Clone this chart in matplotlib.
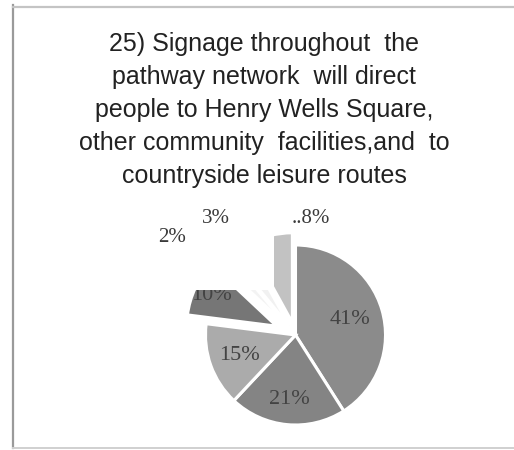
import numpy as np
import matplotlib.pyplot as plt
from matplotlib.lines import Line2D
from matplotlib.patches import Rectangle

title = ("25) Signage throughout  the\n"
         "pathway network  will direct\n"
         "people to Henry Wells Square,\n"
         "other community  facilities,and  to\n"
         "countryside leisure routes")

shares = [41, 21, 15, 10, 2, 3, 8]
labels = ["41%", "21%", "15%", "10%", "2%", "3%", "..8%"]
colors = ["#8b8b8b", "#848484", "#ababab", "#767676", "#f3f3f3", "#f1f1f1", "#c2c2c2"]
explode = [0, 0, 0, 0.23, 0.12, 0.12, 0.14]

W, H = 514, 450
R = 90                      # pie radius in pixels
cx, cy = 295.5, H - 335     # pie centre in pixels
x0, x1, y0, y1 = -1.6, 1.6, -1.25, 1.7

fig = plt.figure(figsize=(W / 100, H / 100), dpi=100)
fig.patch.set_facecolor("white")

# page frame
fig.add_artist(Line2D([13 / W, 13 / W], [1 - 5 / H, 1 - 448 / H], color="#9a9a9a", lw=1.6))
fig.add_artist(Line2D([13 / W, 1], [1 - 6.5 / H, 1 - 6.5 / H], color="#c4c4c4", lw=1.6))
fig.add_artist(Line2D([13 / W, 1], [1 - 447.5 / H, 1 - 447.5 / H], color="#d0d0d0", lw=1.4))

fig.text(264 / W, 1 - 110 / H, title, ha="center", va="center", fontsize=18,
         family="Liberation Sans", color="#222222", linespacing=1.48)

ax = fig.add_axes([(cx + x0 * R) / W, (cy + y0 * R) / H,
                   (x1 - x0) * R / W, (y1 - y0) * R / H])
wedges, _ = ax.pie(shares, colors=colors, explode=explode, startangle=90,
                   counterclock=False,
                   wedgeprops=dict(edgecolor="white", linewidth=2.2))
ax.set_xlim(x0, x1)
ax.set_ylim(y0, y1)
ax.set_aspect("equal")
ax.axis("off")

# labels inside the large slices
inside_r = [0.63, 0.72, 0.66, 0.8]
for w, lab, r in zip(wedges[:4], labels[:4], inside_r):
    ang = np.deg2rad((w.theta1 + w.theta2) / 2)
    ax.text(w.center[0] + r * np.cos(ang), w.center[1] + r * np.sin(ang), lab,
            ha="center", va="center", fontsize=16, family="Liberation Serif",
            color="#434343", zorder=3)

# white label area over the small slices
ax.add_patch(Rectangle((-1.5, 0.5), 1.26, 1.1, facecolor="white",
                       edgecolor="none", zorder=4))

outside_pos = {"2%": (-1.37, 1.08), "3%": (-0.88, 1.29), "..8%": (0.17, 1.29)}
for lab in labels[4:]:
    ax.text(*outside_pos[lab], lab, ha="center", va="center", fontsize=15,
            family="Liberation Serif", color="#3a3a3a", zorder=5)

fig.savefig("out.png", dpi=100)
